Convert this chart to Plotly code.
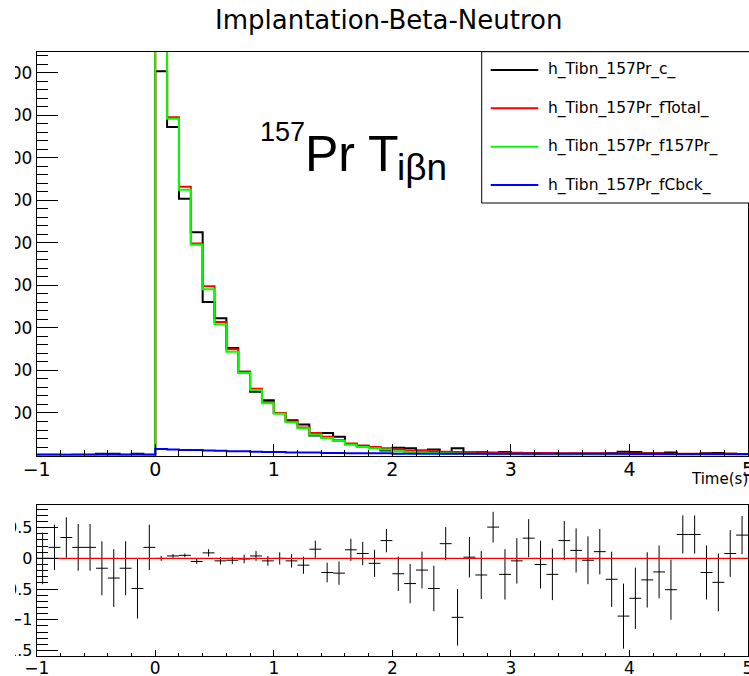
import plotly.graph_objects as go

W, H = 749, 676

# ---------------- data ----------------
bin_lo, bin_hi, bin_width, n_bins = -1.0, 5.0, 0.1, 60

data_counts = [2, 2, 1, 2, 2, 4, 4, 2, 4, 2,
               904, 773, 604, 525, 361, 323, 253, 197, 150, 130,
               100, 83, 73, 47, 53, 44, 27, 23, 20, 12,
               18, 17, 12, 14, 5, 17, 6, 8, 3, 8,
               5, 3, 5, 6, 3, 4, 4, 4, 5, 9,
               8, 5, 5, 7, 3, 3, 5, 6, 4, 3]

fit_total = [1.5, 1.5, 1.5, 1.5, 1.5, 1.5, 1.5, 1.5, 1.5, 1.5,
             1070, 796, 632, 499, 398, 314, 250, 197, 157, 126,
             100, 80, 66, 53, 44, 36, 28, 23, 20, 17,
             14, 12, 11, 10, 9, 8.5, 8, 7.5, 7, 6.5,
             6.2, 6, 5.8, 5.6, 5.4, 5.3, 5.1, 5, 4.9, 4.8,
             4.7, 4.6, 4.5, 4.4, 4.3, 4.2, 4.1, 4, 3.9, 3.8]

fit_157pr = [0, 0, 0, 0, 0, 0, 0, 0, 0, 0,
             1060, 792, 625, 496, 391, 309, 244, 194, 154, 123,
             98, 78, 64, 49, 41, 34, 25, 20, 17, 14,
             10, 8, 7, 6, 5, 4.5, 4, 3.5, 3, 2.5,
             2.2, 2, 1.8, 1.6, 1.4, 1.3, 1.1, 1, 0.9, 0.8,
             0.7, 0.7, 0.6, 0.6, 0.5, 0.5, 0.4, 0.4, 0.3, 0.3]

fit_bckg = [1.5, 1.5, 1.5, 1.5, 1.5, 1.5, 1.5, 1.5, 1.5, 1.5,
            15, 14, 13, 13, 12, 11, 10, 10, 9, 8,
            8, 7, 7, 7, 6, 6, 5, 5, 5, 5,
            4, 4, 4, 4, 4, 4, 4, 4, 4, 4,
            4, 4, 4, 4, 4, 4, 4, 4, 4, 4,
            3.5, 3.5, 3.5, 3.5, 3.5, 3.5, 3.5, 3.5, 3.5, 3.5]

resid_vals = [0.0, 0.18, 0.34, 0.18, 0.18, -0.16, -0.32, -0.16, -0.49, 0.18,
              0.0, 0.04, 0.05, -0.05, 0.09, -0.04, -0.03, -0.01, 0.04, -0.04,
              0.0, -0.04, -0.11, 0.15, -0.23, -0.24, 0.14, 0.08, -0.08, 0.29,
              -0.25, -0.41, -0.19, -0.49, 0.24, -0.96, 0.02, -0.27, 0.51, -0.26,
              -0.04, 0.33, -0.10, -0.26, 0.29, 0.13, -0.03, 0.11, -0.34, -0.94,
              -0.65, -0.35, -0.22, -0.51, 0.39, 0.39, -0.23, -0.39, 0.08, 0.38]

resid_errs = [0.42, 0.37, 0.33, 0.38, 0.38, 0.44, 0.47, 0.44, 0.49, 0.37,
              0.04, 0.03, 0.03, 0.04, 0.06, 0.06, 0.06, 0.07, 0.08, 0.08,
              0.10, 0.11, 0.14, 0.14, 0.16, 0.19, 0.18, 0.19, 0.22, 0.19,
              0.28, 0.32, 0.30, 0.37, 0.27, 0.46, 0.33, 0.39, 0.25, 0.41,
              0.37, 0.31, 0.39, 0.42, 0.32, 0.36, 0.39, 0.37, 0.45, 0.53,
              0.50, 0.45, 0.43, 0.49, 0.31, 0.31, 0.44, 0.47, 0.38, 0.31]

x_range = [-1, 5]
top_y_range = [0, 950]
top_y_ticks = [100, 200, 300, 400, 500, 600, 700, 800, 900]
bot_y_range = [-1.59, 0.87]
bot_y_ticks = [-1.5, -1, -0.5, 0, 0.5]

legend_names = ["h_Tibn_157Pr_c_", "h_Tibn_157Pr_fTotal_",
                "h_Tibn_157Pr_f157Pr_", "h_Tibn_157Pr_fCbck_"]
series_colors = ["#000000", "#ff0000", "#00ff00", "#0000ff"]

title_text = "Implantation-Beta-Neutron"
xaxis_title = "Time(s)"

# ---------------- helpers ----------------
def px(x):
    return x / W

def py(y):
    return 1 - y / H

edges = [round(bin_lo + i * bin_width, 6) for i in range(n_bins + 1)]
centers = [round(bin_lo + (i + 0.5) * bin_width, 6) for i in range(n_bins)]

fig = go.Figure()

series = [data_counts, fit_total, fit_157pr, fit_bckg]
for vals, col, name in zip(series, series_colors, legend_names):
    fig.add_trace(go.Scatter(
        x=edges, y=list(vals) + [vals[-1]], mode="lines",
        line=dict(color=col, width=2, shape="hv"),
        name=name, showlegend=False, xaxis="x", yaxis="y"))

fig.add_trace(go.Scatter(
    x=centers, y=resid_vals, mode="markers",
    marker=dict(size=0.1, color="black"),
    error_x=dict(type="constant", value=bin_width / 2, width=0, thickness=1, color="black"),
    error_y=dict(type="data", array=resid_errs, width=0, thickness=1, color="black"),
    showlegend=False, xaxis="x2", yaxis="y2"))

# residual zero line (drawn on top)
fig.add_trace(go.Scatter(
    x=x_range, y=[0, 0], mode="lines",
    line=dict(color="#ff0000", width=1.2), showlegend=False,
    xaxis="x2", yaxis="y2"))

tick_font_top = dict(family="DejaVu Sans", size=19, color="black")
tick_font_bot = dict(family="DejaVu Sans", size=17, color="black")

common_axis = dict(showgrid=False, zeroline=False, showline=True, mirror=True,
                   linecolor="black", linewidth=1, ticks="inside",
                   tickcolor="black", tickwidth=1, automargin=False,
                   ticklabeloverflow="allow")

x_dom = [px(36.7), px(748)]

fig.update_layout(
    width=W, height=H, autosize=False,
    margin=dict(l=0, r=0, t=0, b=0, pad=0, autoexpand=False),
    paper_bgcolor="white", plot_bgcolor="white",
    xaxis=dict(domain=x_dom, anchor="y", range=x_range,
               tickmode="linear", tick0=0, dtick=1, ticklen=12,
               ticklabelstandoff=-3,
               minor=dict(tickmode="linear", tick0=0, dtick=0.2, ticklen=6,
                          ticks="inside", tickcolor="black"),
               tickfont=tick_font_top, **common_axis),
    yaxis=dict(domain=[py(455.5), py(51.7)], anchor="x", range=top_y_range,
               tickmode="array", tickvals=top_y_ticks, ticklen=21.7,
               minor=dict(tickmode="linear", tick0=0, dtick=20, ticklen=11.7,
                          ticks="inside", tickcolor="black"),
               tickfont=dict(family="DejaVu Sans", size=17, color="black"),
               **common_axis),
    xaxis2=dict(domain=x_dom, anchor="y2", range=x_range,
                tickmode="linear", tick0=0, dtick=1, ticklen=6,
                ticklabelstandoff=-3,
                minor=dict(tickmode="linear", tick0=0, dtick=0.2, ticklen=3,
                           ticks="inside", tickcolor="black"),
                tickfont=tick_font_bot, **common_axis),
    yaxis2=dict(domain=[py(656), py(505)], anchor="x2", range=bot_y_range,
                tickmode="array", tickvals=bot_y_ticks, ticklen=21.7,
                minor=dict(tickmode="linear", tick0=0, dtick=0.1, ticklen=11.7,
                           ticks="inside", tickcolor="black"),
                tickfont=dict(family="DejaVu Sans", size=16, color="black"),
                **common_axis),
)

shapes = []
annotations = []

# white cover for clipped tick labels on left edge
shapes.append(dict(type="rect", xref="paper", yref="paper",
                   x0=px(-5), x1=px(15), y0=py(H + 5), y1=py(-5),
                   fillcolor="white", line=dict(width=0), layer="above"))

# legend box
shapes.append(dict(type="rect", xref="paper", yref="paper",
                   x0=px(481.7), x1=px(770), y0=py(203), y1=py(51.7),
                   fillcolor="white", line=dict(color="black", width=1), layer="above"))
leg_y = [70, 108.3, 146.7, 185]
for name, col, yy in zip(legend_names, series_colors, leg_y):
    shapes.append(dict(type="line", xref="paper", yref="paper",
                       x0=px(490.7), x1=px(538.3), y0=py(yy), y1=py(yy),
                       line=dict(color=col, width=2), layer="above"))
    annotations.append(dict(text=name, xref="paper", yref="paper",
                            x=px(547.7), y=py(yy), xanchor="left", yanchor="middle",
                            showarrow=False, borderpad=0, borderwidth=0,
                            font=dict(family="DejaVu Sans", size=15.5, color="black")))

# title
annotations.append(dict(text=title_text, xref="paper", yref="paper",
                        x=px(388), y=py(19.5), xanchor="center", yanchor="middle",
                        showarrow=False, borderpad=0, borderwidth=0,
                        font=dict(family="DejaVu Sans", size=26, color="black")))
# x axis title
annotations.append(dict(text=xaxis_title, xref="paper", yref="paper",
                        x=px(747.5), y=py(479), xanchor="right", yanchor="middle",
                        showarrow=False, borderpad=0, borderwidth=0,
                        font=dict(family="DejaVu Sans", size=15, color="black")))
# nucleus label
lab_font = "Liberation Sans"
annotations.append(dict(text="157", xref="paper", yref="paper",
                        x=px(305), y=py(132.3), xanchor="right", yanchor="middle",
                        showarrow=False, borderpad=0, borderwidth=0,
                        font=dict(family=lab_font, size=27, color="black")))
annotations.append(dict(text="Pr T", xref="paper", yref="paper",
                        x=px(305), y=py(154.4), xanchor="left", yanchor="middle",
                        showarrow=False, borderpad=0, borderwidth=0,
                        font=dict(family=lab_font, size=50, color="black")))
annotations.append(dict(text="iβn", xref="paper", yref="paper",
                        x=px(396.5), y=py(167.2), xanchor="left", yanchor="middle",
                        showarrow=False, borderpad=0, borderwidth=0,
                        font=dict(family=lab_font, size=37, color="black")))

fig.update_layout(shapes=shapes, annotations=annotations)

fig.write_html("out.html")
